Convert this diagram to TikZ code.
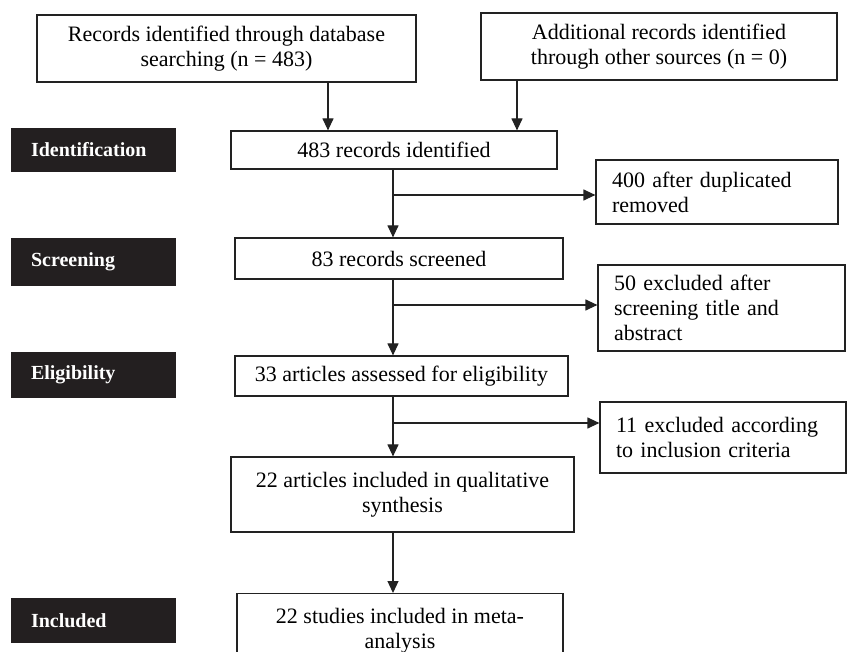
\documentclass[tikz,border=0pt]{standalone}
\usepackage{fontspec}
\setmainfont{Liberation Serif}
\usetikzlibrary{arrows.meta}
\definecolor{stagec}{HTML}{231F20}
\definecolor{linec}{HTML}{222222}
\begin{document}
\begin{tikzpicture}[x=1pt,y=-1pt,
	box/.style={draw=linec,line width=1.2pt,inner sep=0pt,align=center,font=\fontsize{22}{25}\selectfont},
	sidebox/.style={box,align=left,inner xsep=16pt},
	stage/.style={fill=stagec,text=white,minimum width=165pt,text width=125pt,inner xsep=20pt,inner ysep=0pt,align=left,font=\bfseries\fontsize{20}{23}\selectfont},
	arr/.style={draw=linec,line width=1.2pt,-{Triangle[length=12pt,width=11pt]}}]
		\clip (0,0) rectangle (847,652);
		% sources
		\node[box,minimum width=379pt,minimum height=67pt] (recdb) at (226.5,48.5) {Records identified through database\\searching (n = 483)};
		\node[box,minimum width=356pt,minimum height=67pt] (other) at (659,46.5) {Additional records identified\\through other sources (n = 0)};
		% main column
		\node[box,minimum width=326pt,minimum height=38pt] (ident) at (394,150) {483 records identified};
		\node[box,minimum width=328pt,minimum height=41pt] (screen) at (399,258.5) {83 records screened};
		\node[box,minimum width=333pt,minimum height=40pt] (elig) at (401.5,376) {33 articles assessed for eligibility};
		\node[box,minimum width=343pt,minimum height=75pt] (synth) at (402.5,494.5) {22 articles included in qualitative\\synthesis};
		\node[box,minimum width=326pt,minimum height=74pt,anchor=north] (meta) at (400,593) {22 studies included in meta-\\analysis};
		% exclusions
		\node[sidebox,text width=210pt,minimum height=64pt] (dup) at (717,192) {400 after duplicated\\removed};
		\node[sidebox,text width=215pt,minimum height=86pt] (excl1) at (721.5,308) {50 excluded after\\screening title and\\abstract};
		\node[sidebox,text width=214pt,minimum height=71pt] (excl2) at (723,437.5) {11 excluded according\\to inclusion criteria};
		% stages
		\node[stage,minimum height=44pt] (s1) at (93.5,150) {Identification};
		\node[stage,minimum height=48pt] (s2) at (93.5,262) {Screening};
		\node[stage,minimum height=46pt] (s3) at (93.5,375) {Eligibility};
		\node[stage,minimum height=45pt] (s4) at (93.5,620.5) {Included};
		\coordinate (c1) at (328,0);
		\coordinate (c2) at (517,0);
		\coordinate (c3) at (393,0);
		\coordinate (b1) at (393,195);
		\coordinate (b2) at (393,305);
		\coordinate (b3) at (393,423);
		\draw[arr] (recdb.south -| c1) -- (ident.north -| c1);
		\draw[arr] (other.south -| c2) -- (ident.north -| c2);
		\draw[arr] (ident.south -| c3) -- (screen.north -| c3);
		\draw[arr] (screen.south -| c3) -- (elig.north -| c3);
		\draw[arr] (elig.south -| c3) -- (synth.north -| c3);
		\draw[arr] (synth.south -| c3) -- (meta.north -| c3);
		\draw[arr] (b1) -- (b1 -| dup.west);
		\draw[arr] (b2) -- (b2 -| excl1.west);
		\draw[arr] (b3) -- (b3 -| excl2.west);
\end{tikzpicture}
\end{document}
